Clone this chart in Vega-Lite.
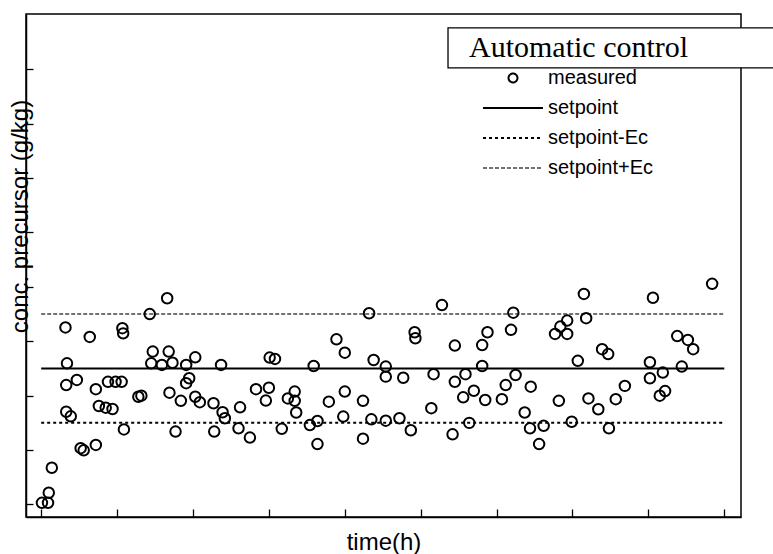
{
  "$schema": "https://vega.github.io/schema/vega-lite/v6.json",
  "width": 715,
  "height": 503,
  "autosize": {"type": "none"},
  "padding": {"left": 26, "top": 14, "right": 32, "bottom": 37},
  "background": "white",
  "config": {
    "font": "Liberation Sans",
    "view": {"stroke": "black", "strokeWidth": 1.5},
    "axis": {"domainColor": "black", "domainWidth": 1.5, "tickColor": "black", "tickWidth": 1.3, "labels": false, "grid": false, "titleColor": "black", "titleFont": "Liberation Sans", "titleFontSize": 24, "titleFontWeight": "normal"},
    "legend": {"orient": "none", "legendX": 443, "legendY": 19, "padding": 0, "titleFont": "Liberation Serif", "titleFontSize": 30, "titleFontWeight": "normal", "titleColor": "black", "titleLimit": 400, "labelFont": "Liberation Sans", "labelFontSize": 20, "labelColor": "black", "labelLimit": 300, "clipHeight": 30, "rowPadding": 0, "symbolSize": 3600, "symbolOffset": 13, "labelOffset": 4, "titlePadding": 0}
  },
  "datasets": {
    "lines": [
      {"start": 0, "end": 9, "c": 5, "series": "setpoint"},
      {"start": 0, "end": 9, "c": 3, "series": "setpoint-Ec"},
      {"start": 0, "end": 9, "c": 7, "series": "setpoint+Ec"}
    ],
    "points": [
      {"t":0.01,"c":0.06},{"t":0.09,"c":0.06},{"t":0.10,"c":0.43},{"t":0.14,"c":1.35},
      {"t":0.32,"c":6.51},{"t":0.34,"c":5.19},{"t":0.33,"c":4.39},{"t":0.47,"c":4.58},
      {"t":0.33,"c":3.41},{"t":0.39,"c":3.24},{"t":0.52,"c":2.07},{"t":0.56,"c":1.99},
      {"t":0.72,"c":2.19},{"t":0.64,"c":6.16},{"t":0.72,"c":4.24},{"t":0.76,"c":3.62},
      {"t":0.85,"c":3.56},{"t":0.94,"c":3.51},{"t":0.88,"c":4.51},{"t":0.98,"c":4.51},
      {"t":1.06,"c":4.51},{"t":1.07,"c":6.48},{"t":1.08,"c":6.29},{"t":1.09,"c":2.76},
      {"t":1.28,"c":3.96},{"t":1.32,"c":4.00},{"t":1.43,"c":7.00},{"t":1.66,"c":7.58},
      {"t":1.47,"c":5.62},{"t":1.45,"c":5.19},{"t":1.59,"c":5.13},{"t":1.68,"c":5.62},
      {"t":1.73,"c":5.21},{"t":1.91,"c":5.13},{"t":2.03,"c":5.41},{"t":1.95,"c":4.64},
      {"t":1.91,"c":4.46},{"t":1.69,"c":4.11},{"t":1.84,"c":3.81},{"t":2.03,"c":3.96},
      {"t":2.09,"c":3.76},{"t":1.77,"c":2.68},{"t":2.27,"c":3.72},{"t":2.39,"c":3.39},
      {"t":2.42,"c":3.17},{"t":2.28,"c":2.68},{"t":2.37,"c":5.13},{"t":2.62,"c":3.57},
      {"t":2.60,"c":2.80},{"t":2.75,"c":2.46},{"t":2.83,"c":4.24},{"t":3.01,"c":5.40},
      {"t":3.08,"c":5.35},{"t":3.00,"c":4.29},{"t":2.96,"c":3.82},{"t":3.17,"c":2.78},
      {"t":3.25,"c":3.90},{"t":3.34,"c":4.15},{"t":3.34,"c":3.81},{"t":3.36,"c":3.38},
      {"t":3.54,"c":2.92},{"t":3.64,"c":3.07},{"t":3.64,"c":2.22},{"t":3.59,"c":5.09},
      {"t":3.79,"c":3.78},{"t":3.89,"c":6.07},{"t":4.00,"c":5.58},{"t":4.00,"c":4.15},
      {"t":3.98,"c":3.23},{"t":4.24,"c":3.81},{"t":4.24,"c":2.42},{"t":4.32,"c":7.03},
      {"t":4.38,"c":5.31},{"t":4.35,"c":3.13},{"t":4.54,"c":5.07},{"t":4.54,"c":4.70},
      {"t":4.54,"c":3.08},{"t":4.72,"c":3.17},{"t":4.77,"c":4.66},{"t":4.87,"c":2.73},
      {"t":4.92,"c":6.33},{"t":4.93,"c":6.11},{"t":5.14,"c":3.54},{"t":5.17,"c":4.79},
      {"t":5.28,"c":7.33},{"t":5.45,"c":5.84},{"t":5.42,"c":2.58},{"t":5.45,"c":4.51},
      {"t":5.59,"c":4.79},{"t":5.56,"c":3.94},{"t":5.64,"c":3.00},{"t":5.70,"c":4.18},
      {"t":5.81,"c":5.86},{"t":5.88,"c":6.33},{"t":5.81,"c":5.09},{"t":5.85,"c":3.84},
      {"t":6.07,"c":3.87},{"t":6.12,"c":4.39},{"t":6.22,"c":7.05},{"t":6.19,"c":6.42},
      {"t":6.25,"c":4.76},{"t":6.45,"c":4.33},{"t":6.37,"c":3.38},{"t":6.44,"c":2.80},
      {"t":6.62,"c":2.89},{"t":6.56,"c":2.22},{"t":6.77,"c":6.27},{"t":6.84,"c":6.54},
      {"t":6.93,"c":6.76},{"t":6.93,"c":6.27},{"t":6.82,"c":3.81},{"t":6.99,"c":3.04},
      {"t":7.07,"c":5.28},{"t":7.15,"c":7.74},{"t":7.18,"c":6.85},{"t":7.21,"c":3.90},
      {"t":7.34,"c":3.50},{"t":7.39,"c":5.71},{"t":7.47,"c":5.53},{"t":7.48,"c":2.80},
      {"t":7.57,"c":3.87},{"t":7.69,"c":4.36},{"t":8.06,"c":7.60},{"t":8.02,"c":5.23},
      {"t":8.02,"c":4.64},{"t":8.19,"c":4.85},{"t":8.15,"c":4.00},{"t":8.22,"c":4.17},
      {"t":8.38,"c":6.19},{"t":8.52,"c":6.05},{"t":8.59,"c":5.71},{"t":8.44,"c":5.07},
      {"t":8.84,"c":8.11}
    ]
  },
  "layer": [
    {
      "data": {"name": "lines"},
      "mark": {"type": "rule"},
      "encoding": {
        "x": {"field": "start", "type": "quantitative", "title": "time(h)", "scale": {"domain": [-0.2, 9.22], "nice": false, "zero": false},
              "axis": {"values": [0,0.5,1,1.5,2,2.5,3,3.5,4,4.5,5,5.5,6,6.5,7,7.5,8,8.5,9], "tickSize": {"condition": {"test": "datum.value % 1 === 0", "value": -8}, "value": -4}, "titleY": 32, "titleBaseline": "alphabetic"}},
        "x2": {"field": "end"},
        "y": {"field": "c", "type": "quantitative", "title": "conc. precursor (g/kg)", "scale": {"domain": [-0.46, 18.03], "nice": false, "zero": false},
              "axis": {"values": [0,1,2,3,4,5,6,7,8,9,10,11,12,13,14,15,16,17], "tickSize": -7, "titleX": 1, "titleY": 202, "titleAngle": 270, "titleAlign": "center", "titleBaseline": "alphabetic"}},
        "strokeDash": {"field": "series", "type": "nominal", "title": "Automatic control",
          "scale": {"domain": ["measured","setpoint","setpoint-Ec","setpoint+Ec"], "range": [[1,0],[1,0],[3,3],[4,2]]},
          "legend": {"encode": {"symbols": {"update": {
            "shape": {"signal": "datum.value === 'measured' ? 'circle' : 'stroke'"},
            "size": {"signal": "datum.value === 'measured' ? 80 : 3600"},
            "fill": {"value": "transparent"}}}}}},
        "strokeWidth": {"field": "series", "type": "nominal", "title": "Automatic control",
          "scale": {"type": "ordinal", "domain": ["measured","setpoint","setpoint-Ec","setpoint+Ec"], "range": [2,2,2,1.4]},
          "legend": {"encode": {"symbols": {"update": {
            "shape": {"signal": "datum.value === 'measured' ? 'circle' : 'stroke'"},
            "size": {"signal": "datum.value === 'measured' ? 80 : 3600"},
            "fill": {"value": "transparent"}}}}}},
        "color": {"field": "series", "type": "nominal", "title": "Automatic control",
          "scale": {"domain": ["measured","setpoint","setpoint-Ec","setpoint+Ec"], "range": ["#000000","#000000","#000000","#444444"]},
          "legend": {"encode": {"symbols": {"update": {
            "shape": {"signal": "datum.value === 'measured' ? 'circle' : 'stroke'"},
            "size": {"signal": "datum.value === 'measured' ? 80 : 3600"},
            "fill": {"value": "transparent"}}}}}}
      }
    },
    {
      "data": {"name": "points"},
      "mark": {"type": "point", "shape": "circle", "filled": false, "opacity": 1, "size": 110, "strokeWidth": 2, "color": "black"},
      "encoding": {
        "x": {"field": "t", "type": "quantitative"},
        "y": {"field": "c", "type": "quantitative"}
      }
    },
    {
      "data": {"values": [{}]},
      "mark": {"type": "rect", "fill": "white", "stroke": "black", "strokeWidth": 1.3},
      "encoding": {
        "x": {"datum": 5.36, "type": "quantitative"},
        "x2": {"datum": 9.75},
        "y": {"datum": 17.52, "type": "quantitative"},
        "y2": {"datum": 16.05}
      }
    }
  ]
}
